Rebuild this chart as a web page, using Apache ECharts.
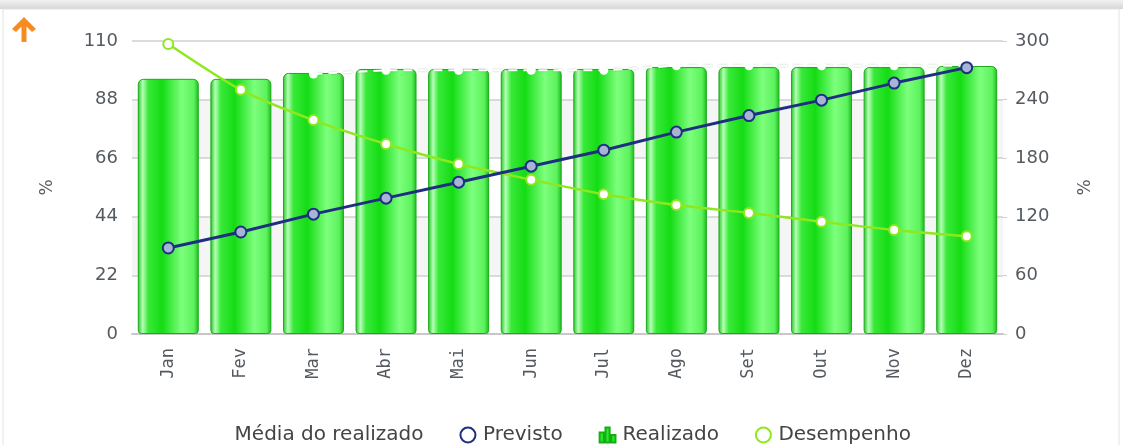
<!DOCTYPE html>
<html>
<head>
<meta charset="utf-8">
<script src="https://cdn.jsdelivr.net/npm/echarts@6/dist/echarts.min.js"></script>
<style>
  html, body { margin: 0; padding: 0; background: #fff; }
  #chart { width: 1123px; height: 445px; }
</style>
</head>
<body>
<div id="chart"></div>
<script>
// months
var categories = ['Jan', 'Fev', 'Mar', 'Abr', 'Mai', 'Jun', 'Jul', 'Ago', 'Set', 'Out', 'Nov', 'Dez']
// left axis (%)
var realizado = [95.8, 95.8, 98, 99.5, 99.5, 99.5, 99.5, 100.2, 100.2, 100.2, 100.2, 100.6]
var previsto = [32.3, 38.3, 45, 51, 57, 63, 69, 75.8, 82, 87.8, 94.2, 100]
var mediaRealizado = [null, null, 97.6, 99, 99, 99, 99, 100.7, 100.7, 100.7, 100.7, 100.7]
// right axis (%)
var desempenho = [297, 250, 219, 194.5, 174, 158, 143, 132, 124, 115, 106.5, 100]
var leftTicks = { min: 0, max: 110, interval: 22 }
var rightTicks = { min: 0, max: 300, interval: 60 }

var chart = echarts.init(document.getElementById('chart'))

var labelColor = '#555a60'
var font = 'DejaVu Sans'

var barColor = new echarts.graphic.LinearGradient(0, 0, 1, 0, [
  { offset: 0, color: '#1fc41f' },
  { offset: 0.08, color: '#b5ffb5' },
  { offset: 0.17, color: '#3ae93a' },
  { offset: 0.4, color: '#14dc14' },
  { offset: 0.72, color: '#7dff7d' },
  { offset: 0.92, color: '#5cf25c' },
  { offset: 1, color: '#1cb81c' }
])

var option = {
  backgroundColor: '#fff',
  animation: false,
  textStyle: { fontFamily: font },
  graphic: [
    {
      type: 'rect',
      shape: { x: 0, y: 0, width: 1123, height: 9 },
      style: {
        fill: new echarts.graphic.LinearGradient(0, 0, 0, 1, [
          { offset: 0, color: '#f2f2f2' },
          { offset: 1, color: '#d6d6d6' }
        ])
      }
    },
    {
      type: 'rect',
      shape: { x: 3, y: 9, width: 1116, height: 440 },
      style: { fill: 'none', stroke: '#e2e2e2', lineWidth: 1 }
    },
    {
      type: 'polygon',
      shape: {
        points: [[24, 17], [36, 29], [32, 32], [26.5, 26.5], [26.5, 42], [21.5, 42], [21.5, 26.5], [16, 32], [12, 29]]
      },
      style: { fill: '#f68b1f' }
    }
  ],
  legend: {
    bottom: -5,
    left: 'center',
    itemGap: 36,
    itemWidth: 20,
    itemHeight: 15,
    textStyle: { color: '#444', fontSize: 20, fontFamily: font },
    data: [
      { name: 'Média do realizado', icon: 'circle', itemStyle: { color: '#fff', borderWidth: 0 } },
      { name: 'Previsto', icon: 'emptyCircle', itemStyle: { color: '#1e2f82', borderColor: '#1e2f82', borderWidth: 3 } },
      { name: 'Realizado', icon: 'path://M0,6h5v12h-5zM7,0h5v18h-5zM14,9h5v9h-5z', itemStyle: { color: '#22ee22' } },
      { name: 'Desempenho', icon: 'emptyCircle', itemStyle: { color: '#8ee81e', borderColor: '#8ee81e', borderWidth: 3 } }
    ]
  },
  grid: { left: 132, right: 120, top: 41, bottom: 111 },
  xAxis: {
    type: 'category',
    data: categories,
    axisLine: { lineStyle: { color: '#c8c8c8', width: 2 } },
    axisTick: { show: false },
    axisLabel: {
      rotate: 90,
      margin: 14,
      color: labelColor,
      fontSize: 17,
      fontFamily: 'DejaVu Sans Mono'
    }
  },
  yAxis: [
    {
      type: 'value',
      min: leftTicks.min,
      max: leftTicks.max,
      interval: leftTicks.interval,
      name: '%',
      nameLocation: 'middle',
      nameGap: 76,
      nameRotate: 90,
      nameTextStyle: { color: labelColor, fontSize: 17 },
      axisLine: { show: false },
      axisTick: { show: false },
      axisLabel: { color: labelColor, fontSize: 18, margin: 14 },
      splitLine: { lineStyle: { color: '#cfcfcf', width: 1.5 } },
      splitArea: { show: true, areaStyle: { color: ['#ffffff', '#f5f5f5'] } }
    },
    {
      type: 'value',
      min: rightTicks.min,
      max: rightTicks.max,
      interval: rightTicks.interval,
      name: '%',
      nameLocation: 'middle',
      nameGap: 74,
      nameRotate: 90,
      nameTextStyle: { color: labelColor, fontSize: 17 },
      axisLine: { show: false },
      axisTick: { show: true, length: 4, lineStyle: { color: '#d0d0d0' } },
      axisLabel: { color: labelColor, fontSize: 18, margin: 12 },
      splitLine: { show: false }
    }
  ],
  series: [
    {
      name: 'Realizado',
      type: 'bar',
      yAxisIndex: 0,
      data: realizado,
      barCategoryGap: '16%',
      itemStyle: {
        color: barColor,
        borderColor: '#1aab1a',
        borderWidth: 1,
        borderRadius: [5, 5, 3, 3]
      },
      z: 2
    },
    {
      name: 'Média do realizado',
      type: 'line',
      yAxisIndex: 0,
      data: mediaRealizado,
      symbol: 'circle',
      symbolSize: 9,
      itemStyle: { color: '#fff' },
      lineStyle: {
        color: '#fff',
        width: 2,
        type: [9, 6],
        shadowColor: 'rgba(40,110,40,0.35)',
        shadowBlur: 2
      },
      z: 3
    },
    {
      name: 'Previsto',
      type: 'line',
      yAxisIndex: 0,
      data: previsto,
      symbol: 'circle',
      symbolSize: 11,
      itemStyle: { color: '#a7b4d6', borderColor: '#1e2f82', borderWidth: 2 },
      lineStyle: { color: '#1e2f82', width: 3 },
      z: 5
    },
    {
      name: 'Desempenho',
      type: 'line',
      yAxisIndex: 1,
      data: desempenho,
      smooth: 0.25,
      symbol: 'circle',
      symbolSize: 10,
      itemStyle: { color: '#fff', borderColor: '#8ee81e', borderWidth: 2 },
      lineStyle: { color: '#8ee81e', width: 2.5 },
      z: 4
    }
  ]
}

chart.setOption(option)
</script>
</body>
</html>
